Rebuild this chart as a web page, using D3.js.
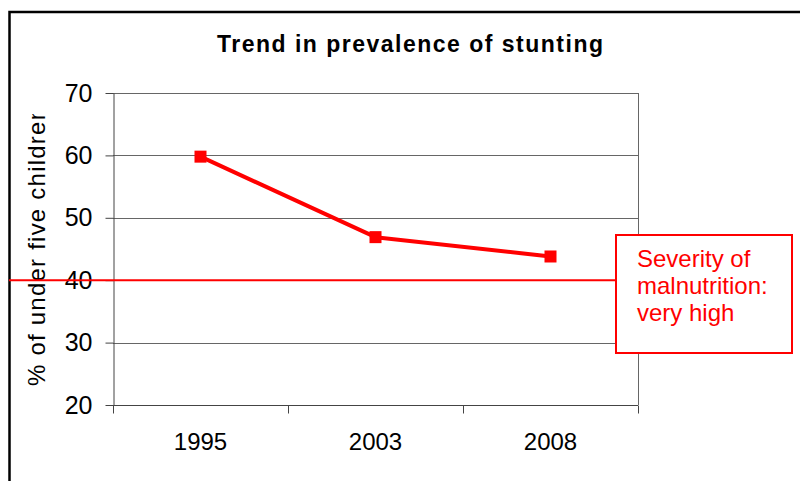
<!DOCTYPE html>
<html>
<head>
<meta charset="utf-8">
<script src="https://cdn.jsdelivr.net/npm/d3@7"></script>
<style>
  html, body { margin: 0; padding: 0; background: #fff; }
  svg { display: block; font-family: "Liberation Sans", Arial, sans-serif; }
</style>
</head>
<body>
<svg id="chart" width="800" height="481"></svg>
<script>
// Stunting prevalence by survey year
const years = ["1995", "2003", "2008"];
const stunting = [59.8, 46.9, 43.8];
const yTicks = [20, 30, 40, 50, 60, 70];
const threshold = 40;
const titleText = "Trend in prevalence of stunting";
const yTitle = "% of under five children";
const noteLines = ["Severity of", "malnutrition:", "very high"];

const svg = d3.select("#chart");
const red = "#ff0000";

const plot = { left: 113, right: 638, top: 93, bottom: 405 };

const x = d3.scaleBand().domain(years).range([plot.left, plot.right]);
const y = d3.scaleLinear().domain([20, 70]).range([plot.bottom, plot.top]);

// outer frame of the chart area
svg.append("path")
  .attr("d", "M9.5,481 V12 H800")
  .attr("fill", "none")
  .attr("stroke", "#000")
  .attr("stroke-width", 2.5);

// title
svg.append("text")
  .attr("x", 410).attr("y", 52)
  .attr("text-anchor", "middle")
  .attr("font-weight", "bold")
  .attr("font-size", 23)
  .attr("textLength", 386)
  .attr("lengthAdjust", "spacing")
  .text(titleText);

// horizontal gridlines
svg.append("g")
  .selectAll("line")
  .data(yTicks.filter(d => d > 20))
  .join("line")
  .attr("x1", plot.left).attr("x2", plot.right)
  .attr("y1", d => Math.round(y(d)) + 0.5).attr("y2", d => Math.round(y(d)) + 0.5)
  .attr("stroke", "#666").attr("stroke-width", 1);

// right border of plot area
svg.append("line")
  .attr("x1", plot.right + 0.5).attr("x2", plot.right + 0.5)
  .attr("y1", plot.top).attr("y2", plot.bottom)
  .attr("stroke", "#666").attr("stroke-width", 1);

// y axis
const yAxis = svg.append("g")
  .attr("transform", `translate(${plot.left + 0.5},0)`)
  .call(d3.axisLeft(y).tickValues(yTicks).tickSize(8).tickPadding(13).tickSizeOuter(0));
yAxis.select(".domain").attr("stroke", "#444");
yAxis.selectAll(".tick line").attr("stroke", "#444");
yAxis.selectAll(".tick text")
  .attr("font-size", 25)
  .attr("font-family", "Liberation Sans, Arial, sans-serif")
  .attr("fill", "#000");

// x axis with ticks between categories
const xAxis = svg.append("g")
  .attr("transform", `translate(0,${plot.bottom + 0.5})`);
xAxis.append("line")
  .attr("x1", plot.left).attr("x2", plot.right)
  .attr("stroke", "#444");
const bounds = years.map(d => x(d)).concat([x(years[years.length - 1]) + x.bandwidth()]);
xAxis.selectAll("line.tk")
  .data(bounds)
  .join("line")
  .attr("class", "tk")
  .attr("x1", d => Math.round(d) + 0.5).attr("x2", d => Math.round(d) + 0.5)
  .attr("y1", 0).attr("y2", 8)
  .attr("stroke", "#444");
xAxis.selectAll("text")
  .data(years)
  .join("text")
  .attr("x", d => x(d) + x.bandwidth() / 2)
  .attr("y", 44)
  .attr("text-anchor", "middle")
  .attr("font-size", 24)
  .text(d => d);

// y axis title, clipped at the top of the chart
svg.append("clipPath").attr("id", "ytclip")
  .append("rect").attr("x", 0).attr("y", 114).attr("width", 80).attr("height", 367);
svg.append("g")
  .attr("clip-path", "url(#ytclip)")
  .append("text")
  .attr("transform", "translate(45,386) rotate(-90)")
  .attr("text-anchor", "start")
  .attr("font-size", 24)
  .attr("textLength", 279)
  .attr("lengthAdjust", "spacing")
  .text(yTitle);

// threshold line for "very high" severity
svg.append("line")
  .attr("x1", 9).attr("x2", 616)
  .attr("y1", y(threshold)).attr("y2", y(threshold))
  .attr("stroke", red).attr("stroke-width", 2);

// trend line and markers
const line = d3.line()
  .x((d, i) => x(years[i]) + x.bandwidth() / 2)
  .y(d => y(d));
svg.append("path")
  .datum(stunting)
  .attr("d", line)
  .attr("fill", "none")
  .attr("stroke", red)
  .attr("stroke-width", 4)
  .attr("stroke-linejoin", "round");
svg.append("g")
  .selectAll("rect")
  .data(stunting)
  .join("rect")
  .attr("x", (d, i) => x(years[i]) + x.bandwidth() / 2 - 6)
  .attr("y", d => y(d) - 6)
  .attr("width", 12).attr("height", 12)
  .attr("fill", red);

// annotation box
svg.append("rect")
  .attr("x", 616).attr("y", 235)
  .attr("width", 176).attr("height", 118)
  .attr("fill", "#fff")
  .attr("stroke", red).attr("stroke-width", 2);
svg.append("g")
  .selectAll("text")
  .data(noteLines)
  .join("text")
  .attr("x", 637)
  .attr("y", (d, i) => 267 + i * 27)
  .attr("font-size", 24)
  .attr("fill", red)
  .text(d => d);
</script>
</body>
</html>
